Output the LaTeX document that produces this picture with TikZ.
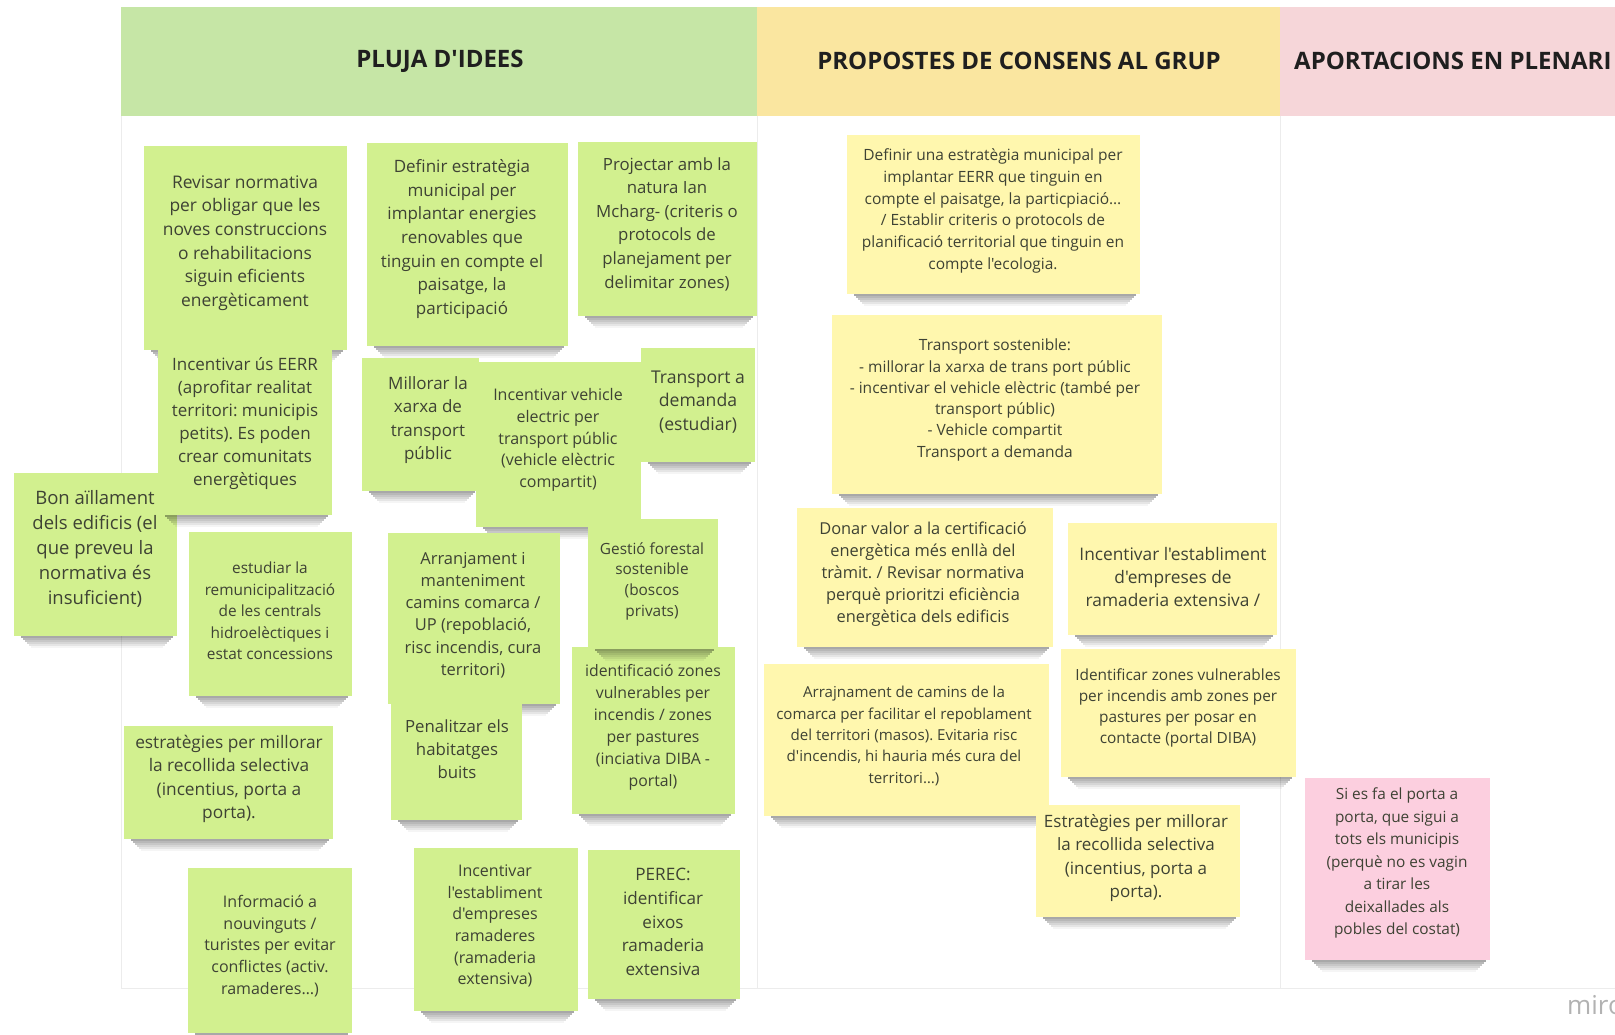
\documentclass[tikz,border=0pt]{standalone}
\usepackage{fontspec}
\newfontfamily\osans{Open Sans}
\definecolor{hgreen}{RGB}{198,230,166}
\definecolor{hyellow}{RGB}{250,230,160}
\definecolor{hpink}{RGB}{246,214,217}
\definecolor{ngreen}{RGB}{210,240,143}
\definecolor{nyellow}{RGB}{255,247,174}
\definecolor{npink}{RGB}{252,207,223}
\definecolor{notetxt}{RGB}{62,66,52}
\definecolor{boardline}{RGB}{236,236,236}
\newcommand{\nfs}[2]{\osans\fontsize{#1}{#2}\selectfont\frenchspacing}
\newcommand{\stickynote}[6]{%
  \foreach \k in {1,...,6}{%
    \pgfmathsetmacro\shop{0.40-0.06*\k}%
    \fill[black, opacity=\shop] ({#2+5+2*\k},{#5+(\k-1)*2}) rectangle ({#4-2-2*\k},{#5+\k*2});}
  \node[notebox, fill=#6, anchor=north west, minimum width={(#4)-(#2)}, minimum height={(#5)-(#3)}] (#1) at (#2,#3) {};}
\tikzset{
  notebox/.style={rectangle, draw=none, inner sep=0pt, outer sep=0pt},
  ntext/.style={align=center, inner sep=0pt, text=notetxt},
  hdrbox/.style={rectangle, draw=none, inner sep=0pt, outer sep=0pt, anchor=north west},
  htitle/.style={font=\nfs{24}{28}\bfseries, text=black!88, inner sep=0pt},
  board/.style={draw=boardline, line width=1pt}
}
\begin{document}
\begin{tikzpicture}[x=1pt, y=-1pt]
\useasboundingbox (0,0) rectangle (1615,1035);
\clip (0,0) rectangle (1615,1035);
\fill[white] (0,0) rectangle (1615,1035);
% board
\coordinate (bl) at (121,988);
\coordinate (br) at (1615,988);
\coordinate (tl) at (121,116);
\coordinate (s1t) at (757,116);
\coordinate (s1b) at (757,988);
\coordinate (s2t) at (1280,116);
\coordinate (s2b) at (1280,988);
\draw[board] (tl) -- (bl) -- (br);
\draw[board] (s1t) -- (s1b);
\draw[board] (s2t) -- (s2b);
% headers
\node[hdrbox, fill=hgreen, minimum width=636, minimum height=109] (h1) at (121,7) {};
\node[hdrbox, fill=hyellow, minimum width=523, minimum height=109] (h2) at (757,7) {};
\node[hdrbox, fill=hpink, minimum width=340, minimum height=109] (h3) at (1280,7) {};
\node[htitle] (t1) at (440,61) {PLUJA D'IDEES};
\node[htitle] (t2) at (1019,61) {PROPOSTES DE CONSENS AL GRUP};
\node[htitle, anchor=west] (t3) at (1294,61) {APORTACIONS EN PLENARI};
% green notes
\stickynote{n1}{144}{146}{347}{350}{ngreen}
\node[ntext, font=\nfs{17.4}{23.7}] (n1t) at (245,243) {Revisar normativa\\per obligar que les\\noves construccions\\o rehabilitacions\\siguin eficients\\energèticament};
\stickynote{n3}{14}{473}{177}{636}{ngreen}
\node[ntext, font=\nfs{18.5}{25}] (n3t) at (95,549) {Bon aïllament\\dels edificis (el\\que preveu la\\normativa és\\insuficient)};
\stickynote{n2}{158}{341}{332}{515}{ngreen}
\node[ntext, font=\nfs{17}{23}] (n2t) at (245,424) {Incentivar ús EERR\\(aprofitar realitat\\territori: municipis\\petits). Es poden\\crear comunitats\\energètiques};
\stickynote{n4}{189}{532}{352}{696}{ngreen}
\node[ntext, font=\nfs{15.4}{21.5}] (n4t) at (270,611) {estudiar la\\remunicipalització\\de les centrals\\hidroelèctiques i\\estat concessions};
\stickynote{n5}{124}{726}{333}{839}{ngreen}
\node[ntext, font=\nfs{17.3}{23.4}] (n5t) at (229,779) {estratègies per millorar\\la recollida selectiva\\(incentius, porta a\\porta).};
\stickynote{n6}{188}{868}{352}{1033}{ngreen}
\node[ntext, font=\nfs{16}{21.7}] (n6t) at (270,946) {Informació a\\nouvinguts /\\turistes per evitar\\conflictes (activ.\\ramaderes…)};
\stickynote{n7}{367}{143}{568}{346}{ngreen}
\node[ntext, font=\nfs{17}{23.7}] (n7t) at (462,239) {Definir estratègia\\municipal per\\implantar energies\\renovables que\\tinguin en compte el\\paisatge, la\\participació};
\stickynote{n8}{578}{142}{757}{316}{ngreen}
\node[ntext, font=\nfs{16.8}{23.6}] (n8t) at (667,224) {Projectar amb la\\natura Ian\\Mcharg- (criteris o\\protocols de\\planejament per\\delimitar zones)};
\stickynote{n9}{362}{358}{479}{491}{ngreen}
\node[ntext, font=\nfs{17}{23.3}] (n9t) at (428,420) {Millorar la\\xarxa de\\transport\\públic};
\stickynote{n10}{476}{362}{641}{527}{ngreen}
\node[ntext, font=\nfs{16}{21.7}] (n10t) at (558,440) {Incentivar vehicle\\electric per\\transport públic\\(vehicle elèctric\\compartit)};
\stickynote{n11}{641}{348}{755}{462}{ngreen}
\node[ntext, font=\nfs{17.6}{23.3}] (n11t) at (698,402) {Transport a\\demanda\\(estudiar)};
\stickynote{n12}{388}{533}{560}{704}{ngreen}
\node[ntext, font=\nfs{16.5}{22.3}] (n12t) at (473,615) {Arranjament i\\manteniment\\camins comarca /\\UP (repoblació,\\risc incendis, cura\\territori)};
\stickynote{n14}{391}{703}{522}{820}{ngreen}
\node[ntext, font=\nfs{16.8}{22.7}] (n14t) at (457,749) {Penalitzar els\\habitatges\\buits};
\stickynote{n15}{572}{647}{735}{814}{ngreen}
\node[ntext, font=\nfs{15.8}{22}] (n15t) at (653,727) {identificació zones\\vulnerables per\\incendis / zones\\per pastures\\(inciativa DIBA -\\portal)};
\stickynote{n13}{588}{519}{718}{649}{ngreen}
\node[ntext, font=\nfs{15.4}{20.7}] (n13t) at (652,581) {Gestió forestal\\sostenible\\(boscos\\privats)};
\stickynote{n16}{414}{848}{578}{1011}{ngreen}
\node[ntext, font=\nfs{16}{21.7}] (n16t) at (495,926) {Incentivar\\l'establiment\\d'empreses\\ramaderes\\(ramaderia\\extensiva)};
\stickynote{n17}{588}{850}{740}{999}{ngreen}
\node[ntext, font=\nfs{17.1}{23.7}] (n17t) at (663,922) {PEREC:\\identificar\\eixos\\ramaderia\\extensiva};
% yellow notes
\stickynote{y1}{847}{135}{1140}{294}{nyellow}
\node[ntext, font=\nfs{15.5}{21.7}] (y1t) at (993,211) {Definir una estratègia municipal per\\implantar EERR que tinguin en\\compte el paisatge, la particpiació…\\/ Establir criteris o protocols de\\planificació territorial que tinguin en\\compte l'ecologia.};
\stickynote{y2}{832}{315}{1162}{494}{nyellow}
\node[ntext, font=\nfs{15.5}{21.3}] (y2t) at (995,400) {Transport sostenible:\\- millorar la xarxa de trans port públic\\- incentivar el vehicle elèctric (també per\\transport públic)\\- Vehicle compartit\\Transport a demanda};
\stickynote{y3}{797}{508}{1053}{647}{nyellow}
\node[ntext, font=\nfs{16.4}{22}] (y3t) at (923,574) {Donar valor a la certificació\\energètica més enllà del\\tràmit. / Revisar normativa\\perquè prioritzi eficiència\\energètica dels edificis};
\stickynote{y4}{1068}{523}{1277}{635}{nyellow}
\node[ntext, font=\nfs{17.3}{23.3}] (y4t) at (1173,577) {Incentivar l'establiment\\d'empreses de\\ramaderia extensiva /};
\stickynote{y5}{764}{664}{1049}{816}{nyellow}
\node[ntext, font=\nfs{15.1}{21.3}] (y5t) at (904,736) {Arrajnament de camins de la\\comarca per facilitar el repoblament\\del territori (masos). Evitaria risc\\d'incendis, hi hauria més cura del\\territori…)};
\stickynote{y6}{1061}{649}{1296}{777}{nyellow}
\node[ntext, font=\nfs{15.4}{21}] (y6t) at (1178,708) {Identificar zones vulnerables\\per incendis amb zones per\\pastures per posar en\\contacte (portal DIBA)};
\stickynote{y7}{1036}{805}{1240}{917}{nyellow}
\node[ntext, font=\nfs{17}{23.3}] (y7t) at (1136,858) {Estratègies per millorar\\la recollida selectiva\\(incentius, porta a\\porta).};
% pink note
\stickynote{p1}{1305}{778}{1490}{960}{npink}
\node[ntext, font=\nfs{15.4}{22.5}] (p1t) at (1397,863) {Si es fa el porta a\\porta, que sigui a\\tots els municipis\\(perquè no es vagin\\a tirar les\\deixallades als\\pobles del costat)};
% watermark
\node[anchor=west, inner sep=0pt, text=black!30, font=\nfs{26}{30}] (miro) at (1567,1005) {miro};
\end{tikzpicture}
\end{document}
